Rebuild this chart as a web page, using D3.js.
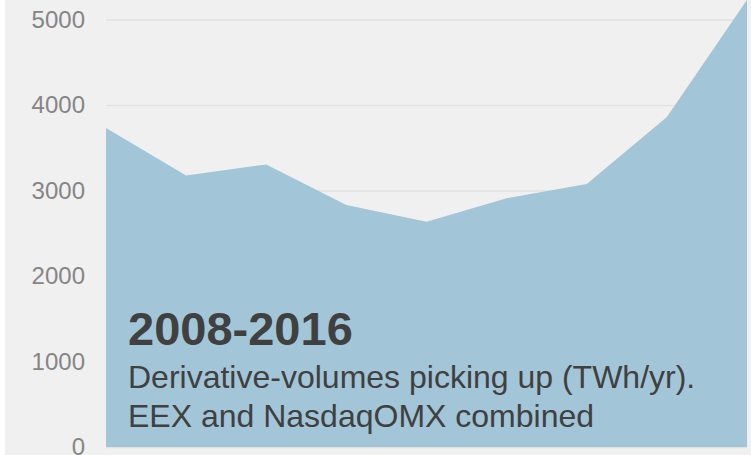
<!DOCTYPE html>
<html>
<head>
<meta charset="utf-8">
<script src="https://cdn.jsdelivr.net/npm/d3@7"></script>
<style>
  body { margin: 0; background: #ffffff; }
  svg { display: block; font-family: "Liberation Sans", Arial, sans-serif; }
</style>
</head>
<body>
<div id="chart"></div>
<script>
// Width and height
var w = 751;
var h = 455;

// data
var years = [2008, 2009, 2010, 2011, 2012, 2013, 2014, 2015, 2016];
var volumes = [3730, 3175, 3305, 2830, 2635, 2910, 3075, 3860, 5230];
var yTicks = [0, 1000, 2000, 3000, 4000, 5000];
var title = "2008-2016";
var subLines = ["Derivative-volumes picking up (TWh/yr).", "EEX and NasdaqOMX combined"];

var x = d3.scaleLinear()
  .domain(d3.extent(years))
  .range([106, 747]);

var y = d3.scaleLinear()
  .domain([0, 5000])
  .range([447, 19.5]);

var svg = d3.select("#chart")
  .append("svg")
  .attr("width", w)
  .attr("height", h);

// grey panel
svg.append("rect")
  .attr("x", 5)
  .attr("y", 0)
  .attr("width", w - 5)
  .attr("height", h)
  .style("fill", "#f0f0f0");

// gridlines + labels
var yAxis = d3.axisLeft(y)
  .tickValues(yTicks)
  .tickSize(-(747 - 106))
  .tickPadding(21)
  .tickFormat(d3.format("d"));

var gy = svg.append("g")
  .attr("transform", "translate(106,0)")
  .call(yAxis);

gy.select(".domain").remove();
gy.selectAll(".tick line")
  .attr("stroke", "#e2e2e2")
  .attr("stroke-width", 1.5);
gy.selectAll(".tick text")
  .attr("fill", "#858585")
  .style("font-size", "24px")
  .style("font-family", "'Liberation Sans', Arial, sans-serif");

// area
var area = d3.area()
  .x(function(d, i) { return x(years[i]); })
  .y0(y(0))
  .y1(function(d) { return y(d); });

svg.append("path")
  .datum(volumes)
  .attr("d", area)
  .style("fill", "#a2c6d8");

// annotation
svg.append("text")
  .attr("x", 128)
  .attr("y", 345)
  .style("font-size", "47px")
  .style("font-weight", "bold")
  .style("fill", "#404040")
  .text(title);

svg.selectAll(".sub")
  .data(subLines)
  .enter()
  .append("text")
  .attr("class", "sub")
  .attr("x", 128)
  .attr("y", function(d, i) { return 388 + i * 39; })
  .style("font-size", "32px")
  .style("fill", "#404040")
  .text(function(d) { return d; });
</script>
</body>
</html>
